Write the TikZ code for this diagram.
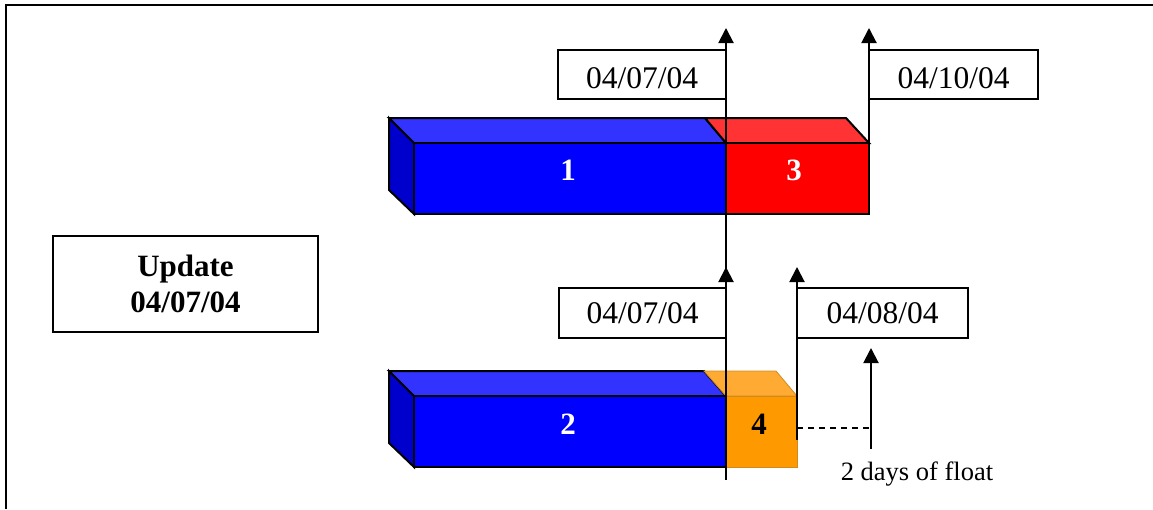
\documentclass[tikz,border=0pt]{standalone}
\usepackage{fontspec}
\setmainfont{Liberation Serif}
\usetikzlibrary{arrows.meta}
\definecolor{bfront}{HTML}{0000FF}
\definecolor{btop}{HTML}{3333FF}
\definecolor{bside}{HTML}{0000CC}
\definecolor{rfront}{HTML}{FF0000}
\definecolor{rtop}{HTML}{FF3333}
\definecolor{ofront}{HTML}{FF9900}
\definecolor{otop}{HTML}{FFAA33}
\definecolor{oedge}{HTML}{D08A20}
\begin{document}
\begin{tikzpicture}[x=1pt,y=-1pt,
  bar/.style={draw=black,line width=2pt,line join=miter},
  obar/.style={draw=oedge,line width=0.8pt},
  datebox/.style={draw=black,line width=1.5pt,fill=white,minimum height=49pt,inner sep=0pt,font=\fontsize{31.5}{31.5}\selectfont},
  lowtext/.style={text height=27pt,text depth=0pt},
  num/.style={font=\fontsize{31}{31}\selectfont\bfseries,text=white},
  arr/.style={line width=2pt,-{Triangle[width=15pt,length=15pt]}}]
\useasboundingbox (0,0) rectangle (1153,509);
\draw[line width=2.5pt] (6,509) -- (6,5) -- (1153,5);

% top bars (1 and 3)
\filldraw[bar,fill=bside] (389,118) -- (414,143) -- (414,214) -- (389,190) -- cycle;
\filldraw[bar,fill=btop] (389,118) -- (705,118) -- (726,143) -- (414,143) -- cycle;
\filldraw[bar,fill=rtop] (705,118) -- (846,118) -- (869,143) -- (726,143) -- cycle;
\filldraw[bar,fill=bfront] (414,143) rectangle (726,214);
\filldraw[bar,fill=rfront] (726,143) rectangle (869,214);

% bottom bars (2 and 4)
\filldraw[bar,fill=bside] (389,371) -- (414,396) -- (414,467) -- (389,443) -- cycle;
\filldraw[bar,fill=btop] (389,371) -- (704,371) -- (726,396) -- (414,396) -- cycle;
\filldraw[obar,fill=otop] (704,371) -- (776,371) -- (797,396) -- (726,396) -- cycle;
\filldraw[obar,fill=ofront] (726,396) rectangle (797,467);
\filldraw[bar,fill=bfront] (414,396) rectangle (726,467);

\node[num] (n1) at (568,170) {1};
\node[num] (n3) at (794,170) {3};
\node[num] (n2) at (568,424) {2};
\node[num,text=black] (n4) at (759,424) {4};

% date boxes
\node[datebox,lowtext,minimum width=168pt] (d1) at (642,74.5) {04/07/04};
\node[datebox,lowtext,minimum width=169pt] (d2) at (953.5,74.5) {04/10/04};
\node[datebox,minimum width=167pt,minimum height=50pt] (d3) at (642.5,313) {04/07/04};
\node[datebox,minimum width=171pt,minimum height=50pt] (d4) at (882.5,313) {04/08/04};

\node[draw=black,line width=1.5pt,minimum width=265pt,minimum height=96pt,align=center,
  font=\fontsize{31}{36}\selectfont\bfseries] (upd) at (185.5,284) {Update\\04/07/04};

% arrows
\coordinate (a1b) at (726,480);
\coordinate (a1t) at (726,28);
\coordinate (a2b) at (726,300);
\coordinate (a2t) at (726,267);
\coordinate (a3b) at (797,440);
\coordinate (a3t) at (797,267);
\coordinate (a4b) at (869,143);
\coordinate (a4t) at (869,28);
\coordinate (fb) at (871,449);
\coordinate (ft) at (871,348);
\coordinate (dl) at (797,428);
\coordinate (dr) at (871,428);
\draw[arr] (a1b) -- (a1t);
\draw[arr] (a2b) -- (a2t);
\draw[arr] (a3b) -- (a3t);
\draw[arr] (a4b) -- (a4t);
\draw[arr] (fb) -- (ft);
\draw[line width=1.5pt,dash pattern=on 6pt off 5pt] (dl) -- (dr);

\node[font=\fontsize{26.5}{26.5}\selectfont] (flt) at (917,474) {2 days of float};
\end{tikzpicture}
\end{document}
